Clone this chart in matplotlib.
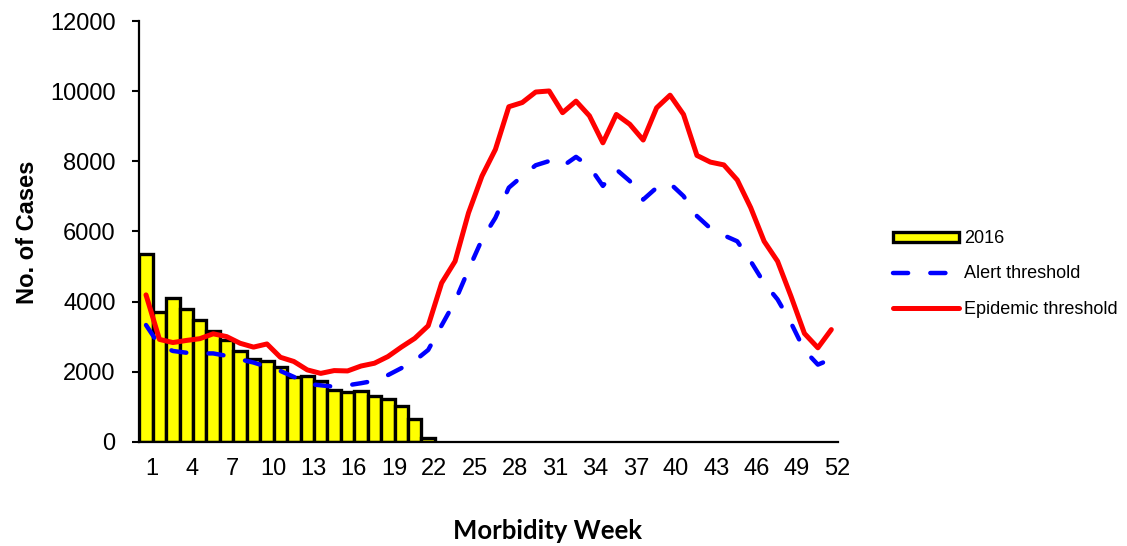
import matplotlib.pyplot as plt
import numpy as np

plt.rcParams['font.family'] = ['Liberation Sans', 'DejaVu Sans']

weeks = np.arange(1, 53)
weeks_2016 = np.arange(1, 23)

cases_2016 = [5360, 3710, 4110, 3780, 3480, 3170, 2890, 2590, 2360, 2300, 2130,
              1860, 1870, 1730, 1480, 1410, 1450, 1310, 1220, 1030, 660, 110]

alert = [3330, 2750, 2590, 2540, 2520, 2520, 2450, 2350, 2260, 2140, 2020, 1850,
         1650, 1610, 1570, 1610, 1670, 1740, 1900, 2100, 2310, 2620, 3320, 4010,
         4910, 5770, 6390, 7250, 7580, 7890, 8010, 7860, 8130, 7850, 7300, 7770,
         7440, 6910, 7250, 7370, 7010, 6440, 6090, 5890, 5720, 5150, 4530, 4060,
         3390, 2610, 2200, 2360]

epidemic = [4190, 2920, 2830, 2890, 2940, 3080, 3000, 2810, 2700, 2790, 2410, 2290,
            2050, 1950, 2030, 2020, 2160, 2240, 2430, 2700, 2950, 3310, 4530, 5150,
            6530, 7580, 8340, 9560, 9680, 9980, 10010, 9390, 9720, 9300, 8530, 9340,
            9060, 8610, 9530, 9890, 9340, 8170, 7980, 7900, 7470, 6680, 5720, 5150,
            4150, 3090, 2680, 3200]

tick_weeks = np.arange(1, 53, 3)

fig = plt.figure(figsize=(11.27, 5.46), dpi=100)
ax = fig.add_axes([0.1236, 0.191, 0.620, 0.7701])

bars = ax.bar(weeks_2016, cases_2016, width=1.0, color='#FFFF00', edgecolor='black',
              linewidth=2.4, label='2016', zorder=2)
l_alert, = ax.plot(weeks, alert, color='#0000FF', lw=3.2, dashes=(3.4, 5.0),
                   dash_capstyle='round', label='Alert threshold', zorder=3)
l_epi, = ax.plot(weeks, epidemic, color='#FF0000', lw=3.6, solid_capstyle='round',
                 label='Epidemic threshold', zorder=4)

ax.set_xlim(0.5, 52.5)
ax.set_ylim(0, 12000)
ax.set_yticks(np.arange(0, 12001, 2000))
# labels sit a little right of the week centres, as in the original
ax.set_xticks(tick_weeks + 0.45)
ax.set_xticklabels([str(w) for w in tick_weeks])
ax.tick_params(axis='y', length=5, width=1.5, pad=12, labelsize=17)
ax.tick_params(axis='x', length=0, pad=12, labelsize=17)

for side in ['top', 'right']:
    ax.spines[side].set_visible(False)
for side in ['left', 'bottom']:
    ax.spines[side].set_linewidth(1.6)

fig.text(0.024, 0.575, 'No. of Cases', rotation=90, ha='center', va='center',
         fontsize=17, fontweight='bold')
fig.text(0.486, 0.027, 'Morbidity Week', ha='center', va='center',
         fontsize=18.5, fontweight='bold', family=['Lato', 'DejaVu Sans'])

fig.legend(handles=[bars, l_alert, l_epi], loc='upper left',
           bbox_to_anchor=(0.792, 0.578), frameon=False,
           fontsize=13, handlelength=3.7, handleheight=0.5, handletextpad=0.25,
           labelspacing=1.0, borderpad=0, borderaxespad=0)

fig.savefig('out.png', dpi=100)
